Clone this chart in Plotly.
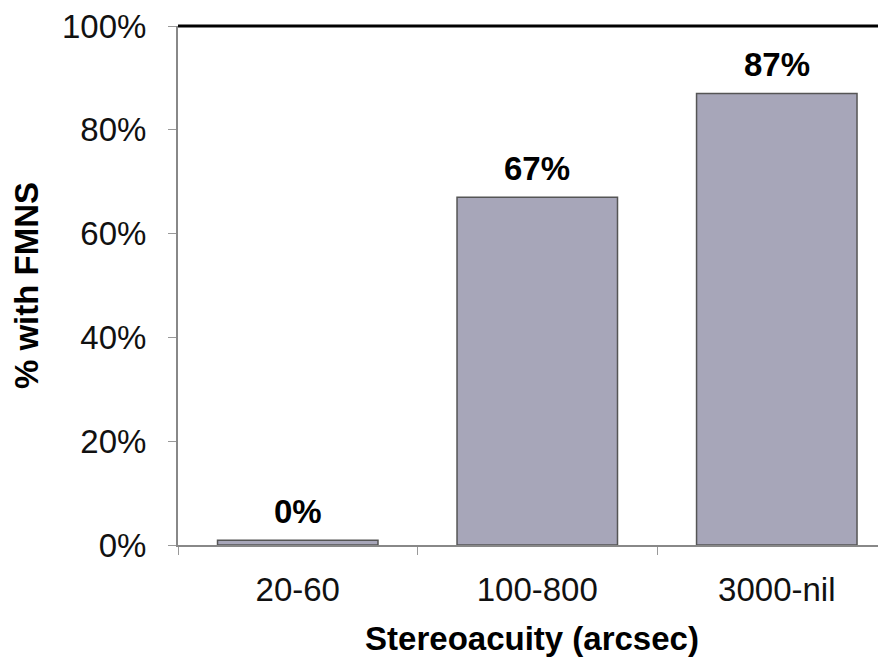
import plotly.graph_objects as go

categories = ["20-60", "100-800", "3000-nil"]
bar_heights = [0.9, 67, 87]
bar_labels = ["0%", "67%", "87%"]
y_ticks = [0, 20, 40, 60, 80, 100]
y_tick_labels = ["0%", "20%", "40%", "60%", "80%", "100%"]

FONT = "Liberation Sans, Arial, sans-serif"
FS = 33

fig = go.Figure()
fig.add_trace(go.Bar(
    x=categories, y=bar_heights,
    marker=dict(color="#A7A6B9", line=dict(color="#555555", width=1.5)),
    width=0.67,
))

for cat, h, lab in zip(categories, bar_heights, bar_labels):
    fig.add_annotation(x=cat, y=h, text="<b>" + lab + "</b>", showarrow=False,
                       yanchor="bottom", yshift=8,
                       font=dict(family=FONT, size=FS, color="black"))

fig.update_layout(
    width=878, height=657,
    margin=dict(l=170, r=0, t=12, b=120, pad=0),
    plot_bgcolor="white", paper_bgcolor="white",
    showlegend=False,
    font=dict(family=FONT, size=FS, color="black"),
    xaxis=dict(
        type="category", range=[-0.5, 2.456],
        showline=True, linecolor="#888888", linewidth=2,
        ticks="outside", tickson="boundaries", ticklen=8, tickcolor="#999999", tickwidth=1,
        ticklabelstandoff=14,
        tickfont=dict(family=FONT, size=FS, color="#111111"), showgrid=False,
        title=dict(text="<b>Stereoacuity (arcsec)</b>", font=dict(family=FONT, size=FS), standoff=20),
    ),
    yaxis=dict(
        range=[0, 100], tickvals=y_ticks, ticktext=y_tick_labels,
        showline=True, linecolor="#888888", linewidth=2,
        ticks="outside", ticklen=8, tickcolor="#999999", tickwidth=1,
        ticklabelstandoff=15, ticklabeloverflow="allow",
        tickfont=dict(family=FONT, size=FS, color="#111111"), showgrid=False, zeroline=False,
        title=dict(text="<b>% with FMNS</b>", font=dict(family=FONT, size=FS), standoff=27),
    ),
    shapes=[dict(type="line", xref="paper", yref="paper", x0=0, x1=1, y0=1, y1=1,
                 line=dict(color="black", width=3))],
)

fig.write_html("out.html")
